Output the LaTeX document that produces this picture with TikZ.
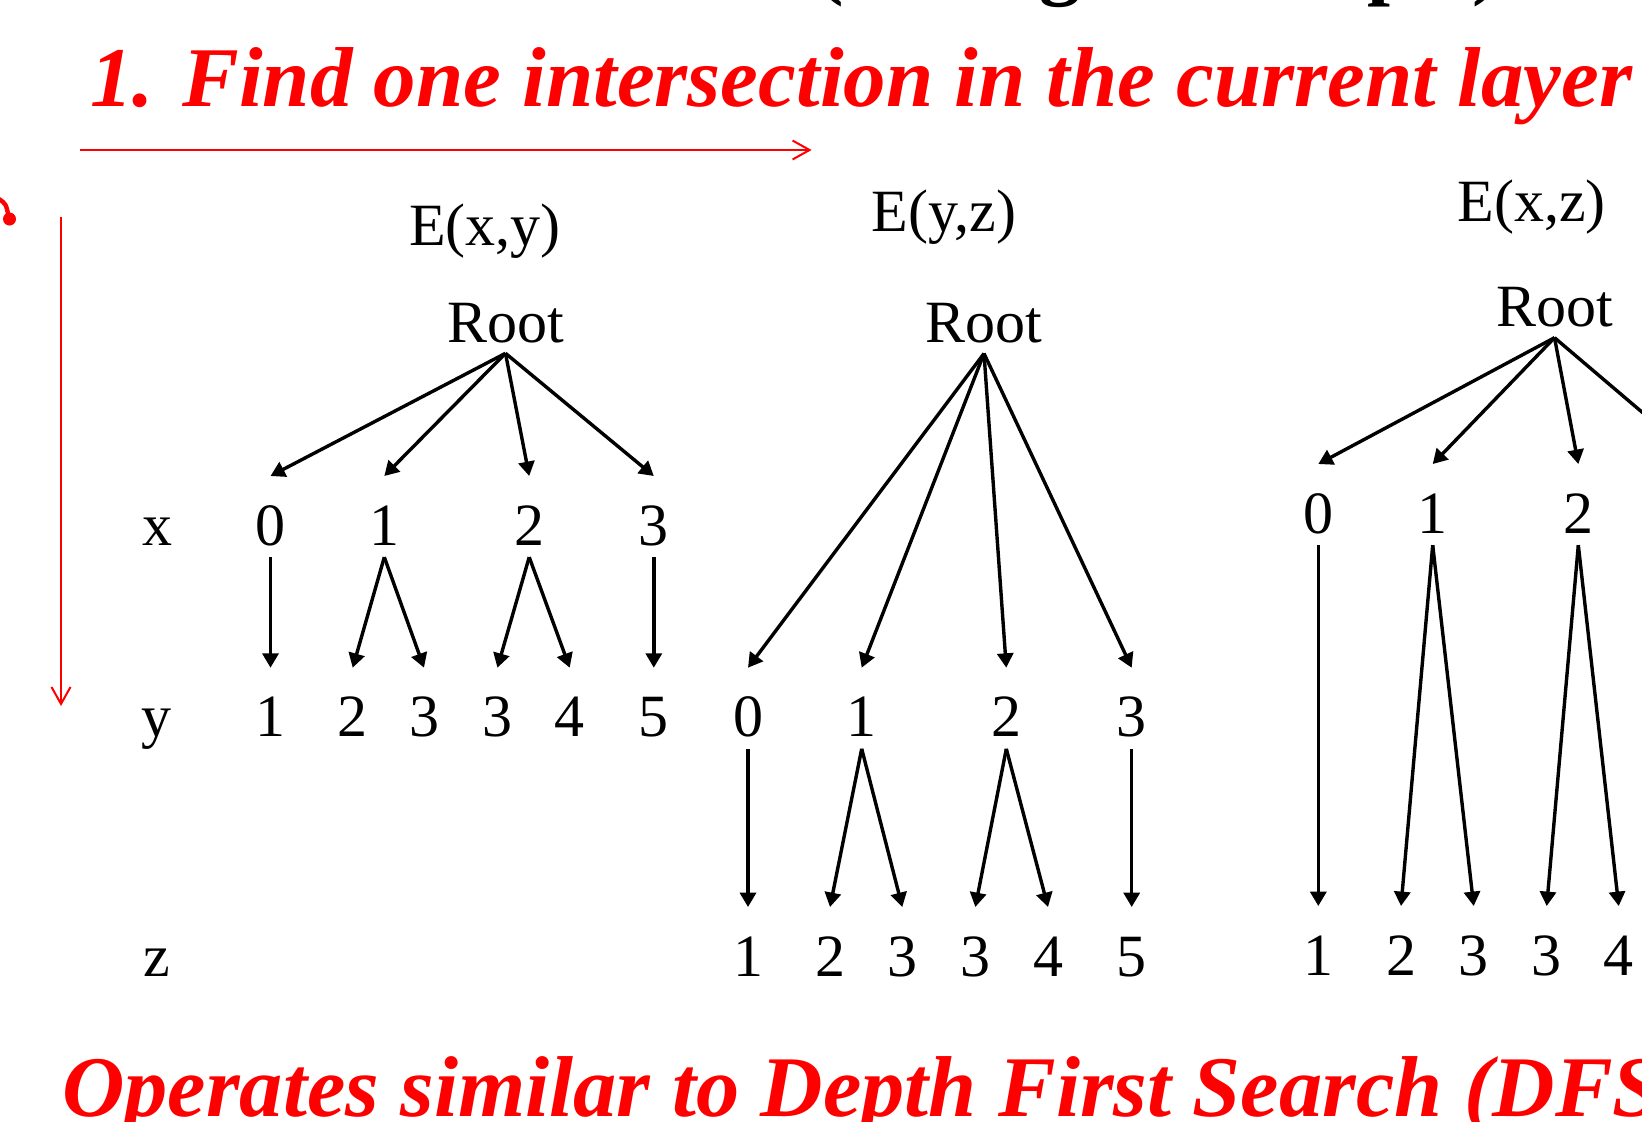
\documentclass[tikz,border=0pt]{standalone}
\usepackage{fontspec}
\setmainfont{Liberation Serif}
\usetikzlibrary{arrows.meta}

\begin{document}
\begin{tikzpicture}[x=0.5pt,y=-0.5pt,
  lbl/.style={font=\fontsize{30}{36}\selectfont,anchor=base,inner sep=0pt},
  rootnode/.style={lbl,inner ysep=5pt},
  val/.style={lbl,text height=28.45pt,text depth=0pt,inner ysep=5.85pt},
  edge/.style={line width=1.7pt,-{Triangle[length=7.2pt,width=8pt]}},
  redarr/.style={red,line width=1pt,-{Straight Barb[length=8.5pt,width=9.5pt]}},
  head/.style={red,font=\fontsize{42.5}{50}\selectfont\bfseries\itshape,anchor=base west,inner sep=0pt}]
  \useasboundingbox (0,0) rectangle (1642,1121);
  \clip (0,0) rectangle (1642,1121);
  % headings
  \node[font=\fontsize{41.25}{48}\selectfont\bfseries,anchor=base west,inner sep=0pt] (title) at (816,-10.5) {(Triangle Example)};
  \node[head] (step1) at (90,106.7) {1. Find one intersection in the current layer};
  \node[head,font=\fontsize{43.2}{50}\selectfont\bfseries\itshape] (dfs) at (62,1116) {Operates similar to Depth First Search (DFS};
  \coordinate (h0) at (80,150); \coordinate (h1) at (811.6,150);
  \coordinate (v0) at (61,216.5); \coordinate (v1) at (61,706);
  \draw[redarr] (h0) -- (h1); \draw[redarr] (v0) -- (v1);
  \fill[red] (9.5,219) circle (6.5);
  \draw[red,line width=2.2pt] (-1,199) .. controls (6,204) .. (8.5,216);
  % level labels
  \node[lbl] (lx) at (157,545) {x}; \node[lbl] (ly) at (156,736.7) {y}; \node[lbl] (lz) at (157,976) {z};
  % E(x,y)
  \node[lbl] (ta) at (485,245) {E(x,y)};
  \node[rootnode] (ar) at (505.5,342.3) {Root};
  \node[val] (ax0) at (270.5,545) {0}; \node[val] (ax1) at (384.3,545) {1};
  \node[val] (ax2) at (529.2,545) {2}; \node[val] (ax3) at (653.8,545) {3};
  \node[val] (ay1) at (270.5,736.7) {1}; \node[val] (ay2) at (352.7,736.7) {2}; \node[val] (ay3) at (424,736.7) {3};
  \node[val] (ay4) at (497.4,736.7) {3}; \node[val] (ay5) at (569.7,736.7) {4}; \node[val] (ay6) at (653.8,736.7) {5};
  \draw[edge] (ar.south) -- (ax0.north); \draw[edge] (ar.south) -- (ax1.north);
  \draw[edge] (ar.south) -- (ax2.north); \draw[edge] (ar.south) -- (ax3.north);
  \draw[edge] (ax0.south) -- (ay1.north); \draw[edge] (ax1.south) -- (ay2.north); \draw[edge] (ax1.south) -- (ay3.north);
  \draw[edge] (ax2.south) -- (ay4.north); \draw[edge] (ax2.south) -- (ay5.north); \draw[edge] (ax3.south) -- (ay6.north);
  % E(y,z)
  \node[lbl] (tb) at (944,231.8) {E(y,z)};
  \node[rootnode] (br) at (984,342.5) {Root};
  \node[val] (by0) at (748,736.7) {0}; \node[val] (by1) at (861.7,736.7) {1};
  \node[val] (by2) at (1006.3,736.7) {2}; \node[val] (by3) at (1131.7,736.7) {3};
  \node[val] (bz1) at (748,976) {1}; \node[val] (bz2) at (830,976) {2}; \node[val] (bz3) at (902.3,976) {3};
  \node[val] (bz4) at (975.3,976) {3}; \node[val] (bz5) at (1048,976) {4}; \node[val] (bz6) at (1131.7,976) {5};
  \draw[edge] (br.south) -- (by0.north); \draw[edge] (br.south) -- (by1.north);
  \draw[edge] (br.south) -- (by2.north); \draw[edge] (br.south) -- (by3.north);
  \draw[edge] (by0.south) -- (bz1.north); \draw[edge] (by1.south) -- (bz2.north); \draw[edge] (by1.south) -- (bz3.north);
  \draw[edge] (by2.south) -- (bz4.north); \draw[edge] (by2.south) -- (bz5.north); \draw[edge] (by3.south) -- (bz6.north);
  % E(x,z)
  \node[lbl] (tc) at (1531.7,221.7) {E(x,z)};
  \node[rootnode] (cr) at (1554.5,326.7) {Root};
  \node[val] (cx0) at (1318.3,533) {0}; \node[val] (cx1) at (1432.7,533) {1};
  \node[val] (cx2) at (1578.3,533) {2}; \node[val] (cx3) at (1703,533) {3};
  \node[val] (cz1) at (1318.3,975) {1}; \node[val] (cz2) at (1401,975) {2}; \node[val] (cz3) at (1473.7,975) {3};
  \node[val] (cz4) at (1546.7,975) {3}; \node[val] (cz5) at (1618.7,975) {4};
  \draw[edge] (cr.south) -- (cx0.north); \draw[edge] (cr.south) -- (cx1.north);
  \draw[edge] (cr.south) -- (cx2.north); \draw[edge] (cr.south) -- (cx3.north);
  \draw[edge] (cx0.south) -- (cz1.north); \draw[edge] (cx1.south) -- (cz2.north); \draw[edge] (cx1.south) -- (cz3.north);
  \draw[edge] (cx2.south) -- (cz4.north); \draw[edge] (cx2.south) -- (cz5.north);
\end{tikzpicture}
\end{document}
